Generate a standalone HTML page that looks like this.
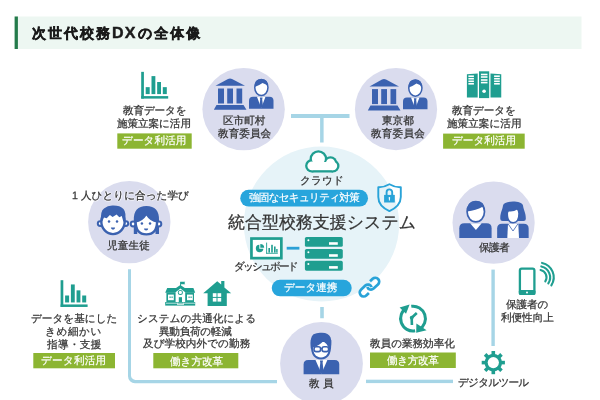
<!DOCTYPE html>
<html><head><meta charset="utf-8">
<style>
html,body{margin:0;padding:0;width:600px;height:400px;overflow:hidden;background:#fff}
body{font-family:"Liberation Sans",sans-serif;color:#333;position:relative}
.t{will-change:transform;text-rendering:geometricPrecision;-webkit-text-stroke:0.25px currentColor;position:absolute;white-space:nowrap;line-height:20px}
svg{position:absolute;left:0;top:0}
</style></head><body>
<svg width="600" height="400" viewBox="0 0 600 400">
<defs>
  <g id="chart">
    <rect x="141.2" y="71.85" width="2.7" height="26.75"/>
    <rect x="141.2" y="96.1" width="27" height="2.5"/>
    <rect x="145.7" y="87.15" width="4" height="6.95"/>
    <rect x="151.5" y="76.1" width="3.85" height="18"/>
    <rect x="157.15" y="82" width="3.85" height="12.1"/>
    <rect x="162.8" y="87.15" width="4" height="6.95"/>
  </g>
  <g id="bldg">
    <path d="M215.5 85.8 L228 79 Q230 78 232 79 L245 85.8 Z"/>
    <rect x="218" y="88.5" width="6" height="15"/>
    <rect x="227.2" y="88.5" width="5.8" height="15"/>
    <rect x="236.5" y="88.5" width="5.7" height="15"/>
    <path d="M216.5 105 H243.5 L246.5 109.8 H213.8 Z"/>
  </g>
  <g id="suit">
    <path d="M249 108.7 V100.8 Q249 96.8 253 96.8 H269.5 Q273.5 96.8 273.5 100.8 V108.7 Z"/>
    <path d="M257 96.8 H265.5 L261.2 108 Z" fill="#fff"/>
    <path d="M259.8 97.6 H262.6 L262.2 99.5 L263 106.5 L261.2 108 L259.4 106.5 L260.2 99.5 Z"/>
    <ellipse cx="261.35" cy="87.5" rx="6.6" ry="8.05" fill="#fff" stroke="#3b62b0" stroke-width="1.5"/>
    <path d="M254.7 87 Q254 79 261.3 78.9 Q268.6 79 268 87 Q266.5 84 262.5 83 Q259 85.5 254.7 87 Z"/>
  </g>
</defs>

<!-- title bar -->
<rect x="15" y="16.5" width="566.5" height="32.5" fill="#edf7f2"/>
<rect x="14.6" y="16.5" width="3.3" height="32.5" fill="#247b4b"/>

<!-- connectors -->
<g fill="#a6d5e6">
  <rect x="291" y="114" width="58.5" height="4"/>
  <rect x="320.1" y="117" width="3.5" height="25.5"/>
  <rect x="320.2" y="307" width="3.6" height="11.25"/>
  <rect x="491.4" y="269.6" width="3.4" height="76.4"/>
  <rect x="366" y="379.7" width="87" height="3.4"/>
  <path d="M128 269.2 V376.2 A7 7 0 0 0 135 383.2 H277 V379.9 H135.5 A4.5 4.5 0 0 1 131 375.4 V269.2 Z"/>
</g>

<!-- central circle -->
<circle cx="321.5" cy="224" r="77.6" fill="#e6f3f8"/>

<!-- lavender circles -->
<g fill="#dadcee">
  <circle cx="243.6" cy="109.15" r="41.2"/>
  <circle cx="396" cy="109.15" r="41.1"/>
  <circle cx="129.3" cy="222.1" r="41.2"/>
  <circle cx="493.6" cy="222.7" r="41.1"/>
  <circle cx="321.5" cy="363.4" r="41.4"/>
</g>

<!-- pills -->
<rect x="240.25" y="189.7" width="127.75" height="16.9" rx="8.45" fill="#27a5dc"/>
<rect x="271.75" y="279.8" width="79.95" height="16.5" rx="8.25" fill="#27a5dc"/>

<!-- green labels -->
<g fill="#8cb532">
  <rect x="117.3" y="133.4" width="74.4" height="15.3"/>
  <rect x="443.1" y="133.6" width="81.6" height="15.1"/>
  <rect x="33.3" y="353" width="81.7" height="15.3"/>
  <rect x="153.3" y="353" width="85" height="15.3"/>
  <rect x="370" y="352.5" width="85.8" height="15.5"/>
</g>

<!-- teal icons -->
<g fill="#1f9e90">
  <use href="#chart"/>
  <use href="#chart" transform="translate(-80.6 208.35)"/>
</g>

<!-- blue building + suits -->
<g fill="#3b62b0">
  <use href="#bldg"/>
  <use href="#suit"/>
  <use href="#bldg" transform="translate(154 0.6)"/>
  <use href="#suit" transform="translate(154 0.6)"/>
</g>

<!-- server icon top right -->
<g fill="#1f9e90">
  <path d="M466.9 74.2 L477.7 73.5 V97.4 H466.9 Z"/>
  <rect x="479" y="71.3" width="10.2" height="26.8"/>
  <path d="M490.5 73.5 L501.25 74.2 V97.4 H490.5 Z"/>
</g>
<g fill="#fff">
  <rect x="468.4" y="75.4" width="5.5" height="1.6"/><rect x="468.4" y="77.9" width="5.5" height="1.6"/><rect x="468.4" y="80.5" width="5.5" height="1.6"/><rect x="468.4" y="83" width="5.5" height="1.6"/>
  <rect x="480.9" y="73.7" width="6.6" height="1.6"/><rect x="480.9" y="76.2" width="6.6" height="1.6"/><rect x="480.9" y="79.2" width="6.6" height="1.6"/><rect x="480.9" y="81.8" width="6.6" height="1.6"/>
  <rect x="494.1" y="75.4" width="5.7" height="1.6"/><rect x="494.1" y="77.9" width="5.7" height="1.6"/><rect x="494.1" y="80.5" width="5.7" height="1.6"/><rect x="494.1" y="83" width="5.7" height="1.6"/>
  <circle cx="484.1" cy="91.3" r="1.8"/>
</g>

<!-- cloud -->
<g fill="#1f9e90">
  <circle cx="311.8" cy="165.8" r="6.7"/>
  <circle cx="318.4" cy="159" r="8.8"/>
  <circle cx="330.5" cy="163" r="6.8"/>
  <circle cx="333" cy="166" r="6.5"/>
  <rect x="311.8" y="162" width="21.2" height="10.5"/>
</g>
<g fill="#fff">
  <circle cx="311.8" cy="165.8" r="4.4"/>
  <circle cx="318.4" cy="159" r="6.5"/>
  <circle cx="330.5" cy="163" r="4.5"/>
  <circle cx="333" cy="166" r="4.2"/>
  <rect x="311.8" y="162" width="21.2" height="8.2"/>
</g>

<!-- shield -->
<path d="M389.4 184.3 Q384 187.5 378.3 187.3 V197 Q378.3 206 389.4 211.1 Q400.6 206 400.8 197 V187.3 Q394.8 187.5 389.4 184.3 Z" fill="none" stroke="#29a3d8" stroke-width="1.9" stroke-linejoin="round"/>
<path d="M386.6 194.9 V192.2 A2.8 2.8 0 0 1 392.2 192.2 V194.9" fill="none" stroke="#29a3d8" stroke-width="1.9"/>
<rect x="384.1" y="194.9" width="10.7" height="7.6" fill="#29a3d8"/>
<path d="M389.4 197 a0.9 0.9 0 0 1 0.5 1.6 V200.5 H388.9 V198.6 a0.9 0.9 0 0 1 0.5 -1.6Z" fill="#fff"/>

<!-- dashboard monitor -->
<rect x="251.45" y="238.55" width="29.9" height="19.6" fill="#fff" stroke="#1f9e90" stroke-width="2.7"/>
<g fill="#1f9e90">
  <path d="M259.3 248.8 V244.7 A3.8 3.8 0 1 0 263.4 248.8 Z"/>
  <path d="M260.3 247.8 V243.9 A3.9 3.9 0 0 1 264.2 247.8 Z"/>
  <rect x="266.2" y="242.6" width="0.9" height="11"/>
  <rect x="266.2" y="252.8" width="11.6" height="0.9"/>
  <rect x="268.4" y="248" width="1.6" height="4.6"/>
  <rect x="271.2" y="244.8" width="1.6" height="7.8"/>
  <rect x="274" y="246.5" width="1.6" height="6.1"/>
  <rect x="276.2" y="249" width="1.4" height="3.6"/>
</g>
<rect x="286.7" y="246.8" width="12.7" height="2.8" fill="#2aa0d6"/>

<!-- server stack -->
<g fill="#1f9e90">
  <rect x="304.9" y="236.9" width="37.9" height="9.9" rx="1.6"/>
  <rect x="304.9" y="249" width="37.9" height="9.7" rx="1.6"/>
  <rect x="304.9" y="260.8" width="37.9" height="9.9" rx="1.6"/>
</g>
<g fill="#fff">
  <circle cx="308.4" cy="240.2" r="1"/><circle cx="308.4" cy="252.2" r="1"/><circle cx="308.4" cy="264" r="1"/>
  <rect x="329" y="242.2" width="8.8" height="2.6"/>
  <rect x="329" y="254.2" width="8.8" height="2.6"/>
  <rect x="329" y="266.1" width="8.8" height="2.6"/>
</g>

<!-- link -->
<g transform="translate(369.45 287.1) rotate(-43)" fill="none" stroke="#29a3d8" stroke-width="2.7">
  <path d="M-4.4 3.9 H-8 A3.9 3.9 0 0 1 -8 -3.9 H-2 A3.9 3.9 0 0 1 1.6 1.5"/>
  <path d="M4.4 -3.9 H8 A3.9 3.9 0 0 1 8 3.9 H2 A3.9 3.9 0 0 1 -1.6 -1.5"/>
</g>

<!-- school -->
<g fill="#1f9e90">
  <rect x="180" y="281.8" width="0.9" height="4.5"/>
  <path d="M180.9 281.8 H185.2 L184.4 283 L185.2 284.2 H180.9 Z"/>
  <path d="M165.2 292.8 L167.2 288 H176 L180.4 285 L184.8 288 H193.4 L195.2 292.8 Z"/>
  <rect x="166.4" y="292.5" width="27.6" height="10"/>
  <rect x="165.2" y="302" width="30" height="3.6"/>
</g>
<g fill="#fff">
  <path d="M175.6 292.2 L180.4 288.4 L185.2 292.2 V302 H175.6 Z"/>
  <rect x="168" y="294.6" width="5.8" height="5.6"/>
  <rect x="187" y="294.6" width="5.8" height="5.6"/>
  <rect x="166" y="302.8" width="12" height="0.7"/>
  <rect x="183" y="302.8" width="12" height="0.7"/>
  <rect x="177" y="302.8" width="7" height="0.7"/>
  <rect x="177" y="304.3" width="7" height="0.7"/>
</g>
<g fill="#1f9e90">
  <circle cx="180.35" cy="292.4" r="2.5"/>
  <circle cx="180.35" cy="292.4" r="1.6" fill="#fff"/>
  <rect x="178.8" y="297.2" width="3.2" height="4.8"/>
  <rect x="169.5" y="296.5" width="1.2" height="1.4"/><rect x="171.5" y="296.5" width="1.2" height="1.4"/>
  <rect x="188.5" y="296.5" width="1.2" height="1.4"/><rect x="190.5" y="296.5" width="1.2" height="1.4"/>
</g>

<!-- house -->
<g fill="#1f9e90">
  <path d="M203.2 293.2 L217.2 281.2 L221.2 284.6 V281 H224.4 V287.4 L231.2 293.2 H226.8 V306 H207.6 V293.2 Z"/>
</g>
<g fill="#fff">
  <rect x="212.8" y="293.2" width="3.7" height="3.7"/><rect x="217.5" y="293.2" width="3.7" height="3.7"/>
  <rect x="212.8" y="297.9" width="3.7" height="3.7"/><rect x="217.5" y="297.9" width="3.7" height="3.7"/>
</g>

<!-- cycle -->
<g fill="none" stroke="#1f9e90" stroke-width="3">
  <path d="M415.15 330.81 A12.4 12.4 0 0 1 406.80 307.86"/>
  <path d="M411.27 306.32 A12.4 12.4 0 0 1 419.20 329.34"/>
  <path d="M411.7 317.7 L416.8 313 M411.7 317.7 L411.9 325" stroke-width="2.6"/>
</g>
<g fill="#1f9e90">
  <path d="M399.6 307.6 L409.6 304.6 L406 313.8 Z"/>
  <path d="M416.4 323.4 L426.6 330.3 L416.2 332.8 Z"/>
  <circle cx="411.7" cy="317.7" r="1.9"/>
</g>

<!-- phone -->
<rect x="519.9" y="268.6" width="14.5" height="25.3" rx="1.8" fill="none" stroke="#1f9e90" stroke-width="2.3"/>
<rect x="518.8" y="290" width="16.7" height="5" rx="1.5" fill="#1f9e90"/>
<circle cx="527" cy="292.6" r="1" fill="#fff"/>
<g fill="none" stroke="#1f9e90" stroke-width="2.1" stroke-linecap="round">
  <path d="M540.56 269.96 A7.5 7.5 0 0 1 545.29 281.38"/>
  <path d="M541.31 266.44 A11.1 11.1 0 0 1 548.31 283.35"/>
  <path d="M542.06 262.92 A14.7 14.7 0 0 1 551.33 285.31"/>
</g>

<!-- gear -->
<g transform="translate(493.3 362.6)" fill="#1f9e90">
  <circle r="8.8"/>
  <rect x="-1.8" y="-11.6" width="3.6" height="23.2"/>
  <rect x="-1.8" y="-11.6" width="3.6" height="23.2" transform="rotate(45)"/>
  <rect x="-1.8" y="-11.6" width="3.6" height="23.2" transform="rotate(90)"/>
  <rect x="-1.8" y="-11.6" width="3.6" height="23.2" transform="rotate(135)"/>
  <circle r="5.6" fill="#fff"/>
</g>

<!-- children -->
<g>
  <circle cx="100.2" cy="223.6" r="2.4" fill="#fff" stroke="#3b62b0" stroke-width="2"/>
  <circle cx="125.8" cy="223.6" r="2.4" fill="#fff" stroke="#3b62b0" stroke-width="2"/>
  <ellipse cx="113" cy="221.6" rx="11.7" ry="12.5" fill="#fff" stroke="#3b62b0" stroke-width="2.4"/>
  <path fill="#3b62b0" d="M101.2 222 Q100 211 104 208.5 Q108 205.2 113.5 205.6 Q120 205.6 123.5 209 Q126.8 213 124.8 222 L123.3 221.4 L121.8 216 L119.3 217.3 L116.6 214.6 L112.6 216.9 L109.9 215 L106.7 218.2 L104 217.5 L102.2 221.4 Z"/>
  <circle cx="109" cy="221.4" r="1.25" fill="#3b62b0"/>
  <circle cx="117" cy="221.4" r="1.25" fill="#3b62b0"/>
  <path d="M110.9 227.6 H115.1 A2.1 2.1 0 0 1 110.9 227.6 Z" fill="#3b62b0"/>

  <path fill="#3b62b0" d="M133.8 234 V220 Q133.5 206 146.4 206 Q159.3 206 159 220 V234 H155.5 V226 H137.2 V234 Z"/>
  <circle cx="133.1" cy="224" r="2.4" fill="#fff" stroke="#3b62b0" stroke-width="2"/>
  <circle cx="158.9" cy="224" r="2.4" fill="#fff" stroke="#3b62b0" stroke-width="2"/>
  <path d="M135.6 221.3 Q135.6 234.4 146.35 234.4 Q157.1 234.4 157.1 221.3 Q151 221 146.35 213.7 Q141.7 221 135.6 221.3 Z" fill="#fff" stroke="#3b62b0" stroke-width="2.4" stroke-linejoin="round"/>
  <circle cx="141.9" cy="223.4" r="1.25" fill="#3b62b0"/>
  <circle cx="150" cy="223.4" r="1.25" fill="#3b62b0"/>
  <path d="M144 228.5 H148.2 A2.1 2.1 0 0 1 144 228.5 Z" fill="#3b62b0"/>
</g>

<!-- parents -->
<g fill="#3b62b0">
  <path d="M459.3 237.9 V228.2 Q459.3 223.2 464.3 223.2 H486.6 Q491.6 223.2 491.6 228.2 V237.9 Z"/>
  <path d="M470.1 223.2 H481.7 L475.9 230 Z" fill="#fff"/>
  <ellipse cx="475.8" cy="211.8" rx="8.7" ry="10.1" fill="#fff" stroke="#3b62b0" stroke-width="1.7"/>
  <path d="M467.2 211.5 Q466.5 201 475.8 201 Q485.2 201 484.5 210 Q483.5 206.5 482.5 206.8 Q476 210.5 467.2 211.5 Z"/>

  <path d="M497.15 237.9 V228.5 Q497.15 223.7 502 223.7 H523.8 Q528.65 223.7 528.65 228.5 V237.9 Z"/>
  <path d="M508 223.7 H518.3 L519 237.9 H507.3 Z" fill="#fff"/>
  <path d="M508.2 224 L513 231 L517.8 224" fill="none" stroke="#3b62b0" stroke-width="0.8"/>
  <path d="M500.3 219 C500 213 502.5 210 503 205.5 C504 200.3 522 200.3 523 205.5 C523.5 210 526 213 525.8 219 Q525.8 221.1 523.5 221.1 H502.6 Q500.3 221.1 500.3 219 Z"/>
  <path d="M507.3 213.5 Q507.3 222.7 513.15 222.7 Q519 222.7 519 213.5 Q518.8 209.6 516.8 208.9 Q513.5 211.2 508.6 210.6 Q507.3 211.5 507.3 213.5 Z" fill="#fff" stroke="#3b62b0" stroke-width="1.5" stroke-linejoin="round"/>
</g>

<!-- teacher -->
<g fill="#3b62b0">
  <path d="M303.6 374.25 V364.4 Q303.6 359.9 308.1 359.9 H334.75 Q339.25 359.9 339.25 364.4 V374.25 Z"/>
  <path d="M315.5 359.9 H327.4 L321.45 373.5 Z" fill="#fff"/>
  <path d="M319.9 360.6 H323 L322.6 362.8 L323.6 371 L321.45 373.4 L319.3 371 L320.3 362.8 Z"/>
  <path d="M311.8 345 Q311.8 358.4 321 358.4 Q330.2 358.4 330.2 345 V341 H311.8 Z" fill="#fff" stroke="#3b62b0" stroke-width="2"/>
  <path d="M310.8 348.4 Q309.6 337 313.5 334.2 Q317.5 332.2 322 332.8 Q328.6 333 330.6 337.5 Q332 342 330.6 348.4 L328.6 347.5 Q327.6 344 323.2 341.2 Q319.5 345.5 312.6 347.8 Z"/>
  <rect x="314" y="346.8" width="6.6" height="4.8" rx="2.2" fill="#fff" stroke="#3b62b0" stroke-width="1.6"/>
  <rect x="322" y="346.8" width="6.6" height="4.8" rx="2.2" fill="#fff" stroke="#3b62b0" stroke-width="1.6"/>
  <rect x="320.4" y="347.9" width="1.8" height="1.1"/>
</g>
</svg>
<div class="t" style="left:32px;top:23px;font-size:14px;letter-spacing:2px;font-weight:bold;color:#1a1a1a;-webkit-text-stroke:0.45px #1a1a1a">次世代校務<span style="font-size:16px;letter-spacing:1.1px;margin-right:1.6px">DX</span>の全体像</div>
<div class="t" style="left:123.09px;top:100.56px;font-size:10.6px;letter-spacing:-0.14px">教育データを</div>
<div class="t" style="left:117.12px;top:113.53px;font-size:10.6px;letter-spacing:-0.07px">施策立案に活用</div>
<div class="t" style="left:122.45px;top:131.40px;font-size:10.6px;letter-spacing:0.07px;color:#fff;-webkit-text-stroke:0.2px #fff">データ利活用</div>
<div class="t" style="left:222.94px;top:111.45px;font-size:10.6px;letter-spacing:0.02px">区市町村</div>
<div class="t" style="left:218.00px;top:123.86px;font-size:10.6px;letter-spacing:0.04px">教育委員会</div>
<div class="t" style="left:381.88px;top:111.03px;font-size:10.6px;letter-spacing:0.01px">東京都</div>
<div class="t" style="left:371.00px;top:123.86px;font-size:10.6px;letter-spacing:0.20px">教育委員会</div>
<div class="t" style="left:452.06px;top:100.56px;font-size:10.6px;letter-spacing:-0.09px">教育データを</div>
<div class="t" style="left:447.00px;top:113.53px;font-size:10.6px;letter-spacing:0.02px">施策立案に活用</div>
<div class="t" style="left:452.36px;top:131.40px;font-size:10.6px;letter-spacing:-0.01px;color:#fff;-webkit-text-stroke:0.2px #fff">データ利活用</div>
<div class="t" style="left:300.15px;top:170.78px;font-size:10.6px;letter-spacing:0.19px">クラウド</div>
<div class="t" style="left:249.06px;top:188.34px;font-size:10.6px;letter-spacing:-0.75px;color:#fff;-webkit-text-stroke:0.2px #fff">強固なセキュリティ対策</div>
<div class="t" style="left:228.00px;top:212.55px;font-size:17px;letter-spacing:-0.04px">統合型校務支援システム</div>
<div class="t" style="left:233.70px;top:257.39px;font-size:10.6px;letter-spacing:-1.85px">ダッシュボード</div>
<div class="t" style="left:284.36px;top:278.40px;font-size:10.6px;letter-spacing:-0.01px;color:#fff;-webkit-text-stroke:0.2px #fff">データ連携</div>
<div class="t" style="left:71.88px;top:185.62px;font-size:10.6px;letter-spacing:0.04px;text-shadow:1px 0 1px #fff,-1px 0 1px #fff,0 1px 1px #fff,0 -1px 1px #fff">1 人ひとりに合った学び</div>
<div class="t" style="left:107.15px;top:235.61px;font-size:10.6px;letter-spacing:0.18px">児童生徒</div>
<div class="t" style="left:31.30px;top:309.21px;font-size:10.6px;letter-spacing:0.03px">データを基にした</div>
<div class="t" style="left:45.15px;top:321.95px;font-size:10.6px;letter-spacing:0.61px">きめ細かい</div>
<div class="t" style="left:47.15px;top:334.59px;font-size:10.6px;letter-spacing:0.36px">指導・支援</div>
<div class="t" style="left:41.45px;top:351.21px;font-size:10.6px;letter-spacing:0.22px;color:#fff;-webkit-text-stroke:0.2px #fff">データ利活用</div>
<div class="t" style="left:137.06px;top:308.84px;font-size:10.6px;letter-spacing:0.06px">システムの共通化による</div>
<div class="t" style="left:159.39px;top:321.64px;font-size:10.6px;letter-spacing:-0.26px">異動負荷の軽減</div>
<div class="t" style="left:142.88px;top:333.81px;font-size:10.6px;letter-spacing:0.06px">及び学校内外での勤務</div>
<div class="t" style="left:170.00px;top:351.56px;font-size:10.6px;letter-spacing:-0.01px;color:#fff;-webkit-text-stroke:0.2px #fff">働き方改革</div>
<div class="t" style="left:309.12px;top:374.40px;font-size:10.6px;letter-spacing:3.40px">教員</div>
<div class="t" style="left:370.00px;top:333.99px;font-size:10.6px;letter-spacing:-0.03px">教員の業務効率化</div>
<div class="t" style="left:386.91px;top:350.65px;font-size:10.6px;letter-spacing:-0.36px;color:#fff;-webkit-text-stroke:0.2px #fff">働き方改革</div>
<div class="t" style="left:458.30px;top:372.62px;font-size:10.6px;letter-spacing:-0.74px">デジタルツール</div>
<div class="t" style="left:479.06px;top:237.97px;font-size:10.6px;letter-spacing:-0.65px">保護者</div>
<div class="t" style="left:506.12px;top:295.40px;font-size:10.6px;letter-spacing:-0.10px">保護者の</div>
<div class="t" style="left:501.00px;top:307.81px;font-size:10.6px;letter-spacing:-0.05px">利便性向上</div>
</body></html>
